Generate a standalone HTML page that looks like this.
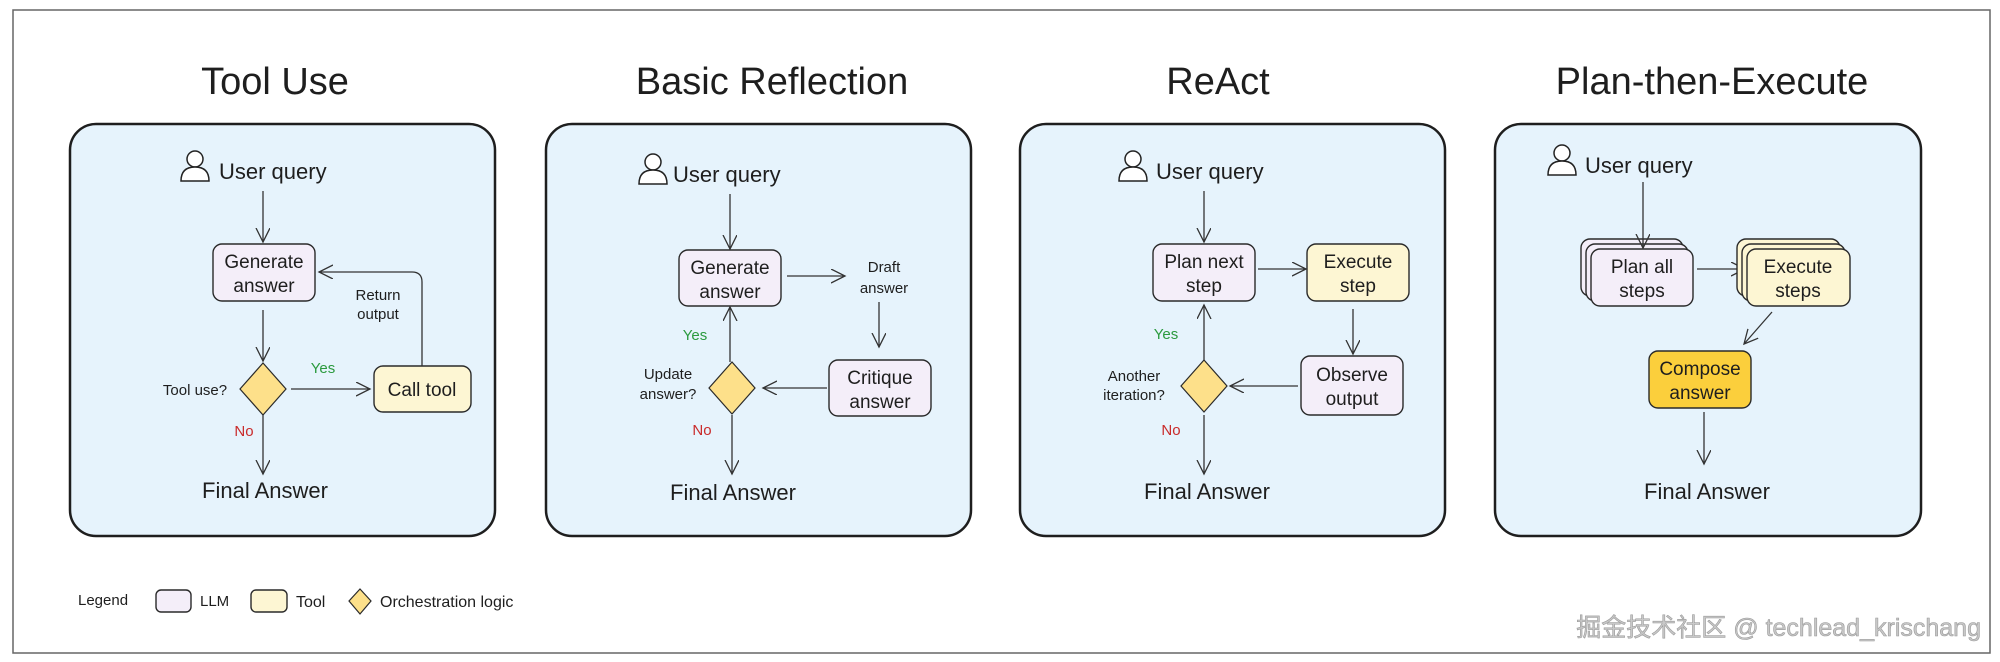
<!DOCTYPE html>
<html><head><meta charset="utf-8"><style>
html,body{margin:0;padding:0;background:#fff;}
svg{display:block;}
text{font-family:"Liberation Sans","Noto Sans CJK SC",sans-serif;fill:#1e1e1e;}
.t{font-size:38px;text-anchor:middle;}
.n{font-size:19px;text-anchor:middle;}
.s{font-size:15px;text-anchor:middle;}
.u{font-size:22px;}
.f{font-size:22px;text-anchor:middle;}
.panel{fill:#e6f3fc;stroke:#1e1e1e;stroke-width:2.5;}
.llm{fill:#f4eef9;stroke:#2a2a2a;stroke-width:1.4;}
.tool{fill:#fdf6d3;stroke:#2a2a2a;stroke-width:1.4;}
.dia{fill:#fde08a;stroke:#2a2a2a;stroke-width:1.2;}
.a{stroke:#333;stroke-width:1.3;fill:none;marker-end:url(#ah);}
.g{fill:#2b9a3e;font-size:15px;text-anchor:middle;}
.r{fill:#c92a2a;font-size:15px;text-anchor:middle;}
</style></head><body>
<svg width="2000" height="662" viewBox="0 0 2000 662" xmlns="http://www.w3.org/2000/svg">
<defs>
<marker id="ah" markerWidth="20" markerHeight="20" refX="14" refY="7" orient="auto" markerUnits="userSpaceOnUse">
<polyline points="0,0 14,7 0,14" fill="none" stroke="#333" stroke-width="1.3"/>
</marker>
<g id="user">
<circle cx="0" cy="-8" r="8" fill="#fff" stroke="#222" stroke-width="1.5"/>
<path d="M-14,14 Q-14,0 0,0 Q14,0 14,14 Z" fill="#fff" stroke="#222" stroke-width="1.5"/>
</g>
</defs>
<rect x="13" y="10" width="1977" height="643" fill="none" stroke="#666" stroke-width="1.5"/>

<!-- Titles -->
<text class="t" x="275" y="94">Tool Use</text>
<text class="t" x="772" y="94">Basic Reflection</text>
<text class="t" x="1218" y="94">ReAct</text>
<text class="t" x="1712" y="94">Plan-then-Execute</text>

<!-- Panels -->
<rect class="panel" x="70" y="124" width="425" height="412" rx="26"/>
<rect class="panel" x="546" y="124" width="425" height="412" rx="26"/>
<rect class="panel" x="1020" y="124" width="425" height="412" rx="26"/>
<rect class="panel" x="1495" y="124" width="426" height="412" rx="26"/>

<!-- Panel 1 -->
<use href="#user" x="195" y="167"/>
<text class="u" x="219" y="179">User query</text>
<line class="a" x1="263" y1="191" x2="263" y2="242"/>
<rect class="llm" x="213" y="244" width="102" height="57" rx="9"/>
<text class="n" x="264" y="268">Generate</text><text class="n" x="264" y="292">answer</text>
<line class="a" x1="263" y1="310" x2="263" y2="361"/>
<polygon class="dia" points="263,363 286,389 263,415 240,389"/>
<text class="s" x="195" y="395">Tool use?</text>
<line class="a" x1="291" y1="389" x2="370" y2="389"/>
<text class="g" x="323" y="373">Yes</text>
<rect class="tool" x="374" y="366" width="97" height="46" rx="9"/>
<text class="n" x="422" y="396">Call tool</text>
<path class="a" d="M422,366 L422,282 Q422,272 412,272 L319,272"/>
<text class="s" x="378" y="300">Return</text><text class="s" x="378" y="319">output</text>
<text class="r" x="244" y="436">No</text>
<line class="a" x1="263" y1="415" x2="263" y2="474"/>
<text class="f" x="265" y="498">Final Answer</text>

<!-- Panel 2 -->
<use href="#user" x="653" y="170"/>
<text class="u" x="673" y="182">User query</text>
<line class="a" x1="730" y1="194" x2="730" y2="249"/>
<rect class="llm" x="679" y="250" width="102" height="56" rx="9"/>
<text class="n" x="730" y="274">Generate</text><text class="n" x="730" y="298">answer</text>
<line class="a" x1="787" y1="276" x2="845" y2="276"/>
<text class="s" x="884" y="272">Draft</text><text class="s" x="884" y="293">answer</text>
<line class="a" x1="879" y1="302" x2="879" y2="347"/>
<rect class="llm" x="829" y="360" width="102" height="56" rx="9"/>
<text class="n" x="880" y="384">Critique</text><text class="n" x="880" y="408">answer</text>
<line class="a" x1="827" y1="388" x2="763" y2="388"/>
<polygon class="dia" points="732,362 755,388 732,414 709,388"/>
<text class="s" x="668" y="379">Update</text><text class="s" x="668" y="399">answer?</text>
<line class="a" x1="730" y1="362" x2="730" y2="307"/>
<text class="g" x="695" y="340">Yes</text>
<text class="r" x="702" y="435">No</text>
<line class="a" x1="732" y1="415" x2="732" y2="474"/>
<text class="f" x="733" y="500">Final Answer</text>

<!-- Panel 3 -->
<use href="#user" x="1133" y="167"/>
<text class="u" x="1156" y="179">User query</text>
<line class="a" x1="1204" y1="191" x2="1204" y2="242"/>
<rect class="llm" x="1153" y="244" width="102" height="57" rx="9"/>
<text class="n" x="1204" y="268">Plan next</text><text class="n" x="1204" y="292">step</text>
<line class="a" x1="1258" y1="269" x2="1306" y2="269"/>
<rect class="tool" x="1307" y="244" width="102" height="57" rx="9"/>
<text class="n" x="1358" y="268">Execute</text><text class="n" x="1358" y="292">step</text>
<line class="a" x1="1353" y1="309" x2="1353" y2="354"/>
<rect class="llm" x="1301" y="356" width="102" height="59" rx="9"/>
<text class="n" x="1352" y="381">Observe</text><text class="n" x="1352" y="405">output</text>
<line class="a" x1="1298" y1="386" x2="1230" y2="386"/>
<polygon class="dia" points="1204,360 1227,386 1204,412 1181,386"/>
<text class="s" x="1134" y="381">Another</text><text class="s" x="1134" y="400">iteration?</text>
<line class="a" x1="1204" y1="360" x2="1204" y2="305"/>
<text class="g" x="1166" y="339">Yes</text>
<text class="r" x="1171" y="435">No</text>
<line class="a" x1="1204" y1="415" x2="1204" y2="474"/>
<text class="f" x="1207" y="499">Final Answer</text>

<!-- Panel 4 -->
<use href="#user" x="1562" y="161"/>
<text class="u" x="1585" y="173">User query</text>
<rect class="llm" x="1581" y="239" width="102" height="57" rx="9"/>
<rect class="llm" x="1586" y="244" width="102" height="57" rx="9"/>
<rect class="llm" x="1591" y="249" width="102" height="57" rx="9"/>
<line class="a" x1="1643" y1="182" x2="1643" y2="248"/>
<text class="n" x="1642" y="273">Plan all</text><text class="n" x="1642" y="297">steps</text>
<line class="a" x1="1697" y1="269" x2="1745" y2="269"/>
<rect class="tool" x="1737" y="239" width="103" height="57" rx="9"/>
<rect class="tool" x="1742" y="244" width="103" height="57" rx="9"/>
<rect class="tool" x="1747" y="249" width="103" height="57" rx="9"/>
<text class="n" x="1798" y="273">Execute</text><text class="n" x="1798" y="297">steps</text>
<line class="a" x1="1772" y1="312" x2="1744" y2="344"/>
<rect x="1649" y="351" width="102" height="57" rx="9" fill="#fbcf3c" stroke="#2a2a2a" stroke-width="1.4"/>
<text class="n" x="1700" y="375">Compose</text><text class="n" x="1700" y="399">answer</text>
<line class="a" x1="1704" y1="412" x2="1704" y2="464"/>
<text class="f" x="1707" y="499">Final Answer</text>

<!-- Legend -->
<text style="font-size:15px" x="78" y="605">Legend</text>
<rect class="llm" x="156" y="590" width="35" height="22" rx="5"/>
<text style="font-size:15px" x="200" y="606">LLM</text>
<rect class="tool" x="251" y="590" width="36" height="22" rx="5"/>
<text style="font-size:16px" x="296" y="607">Tool</text>
<polygon class="dia" points="360,589 371,601 360,614 349,601"/>
<text style="font-size:16px" x="380" y="607">Orchestration logic</text>

<!-- Watermark -->
<text x="1981" y="636" style="font-size:25px;text-anchor:end;fill:#c8c8c8;stroke:#9a9a9a;stroke-width:0.6">掘金技术社区 @ techlead_krischang</text>
</svg>
</body></html>
